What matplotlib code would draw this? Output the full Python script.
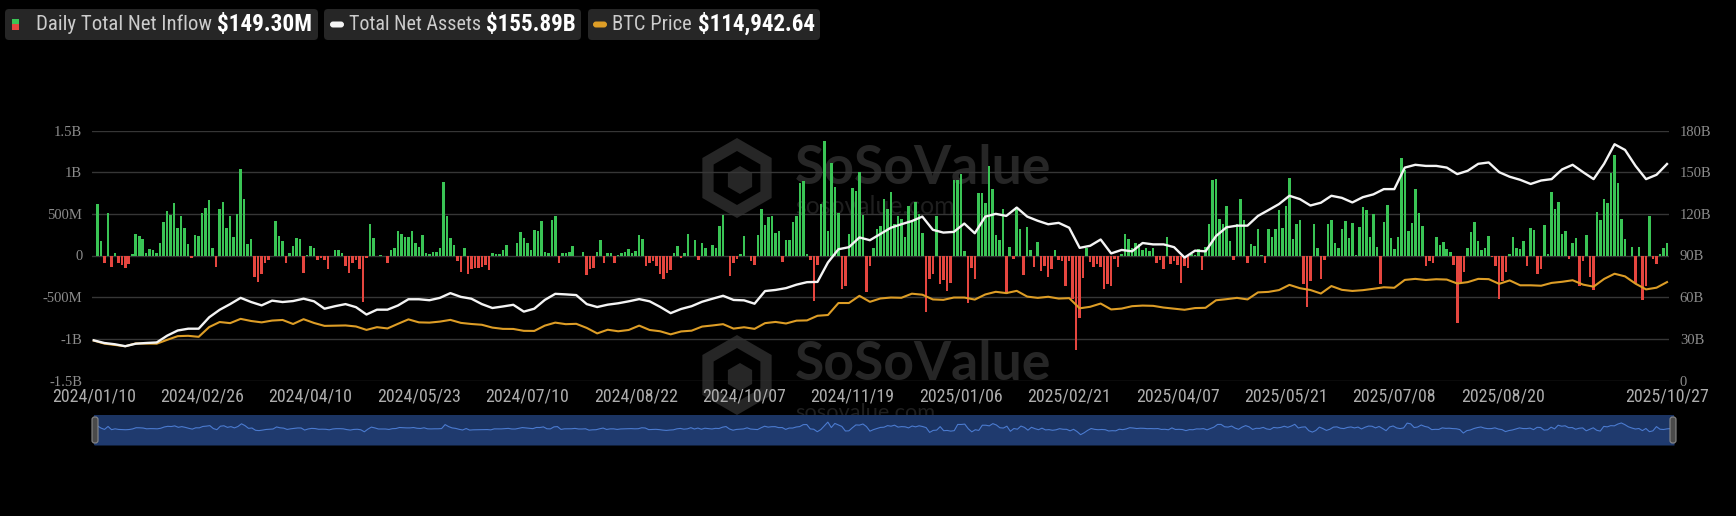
import numpy as np
import pandas as pd
import matplotlib
matplotlib.use('Agg')
import matplotlib.pyplot as plt
from matplotlib import font_manager
from matplotlib.patches import FancyBboxPatch, RegularPolygon, Rectangle

W, H = 1736, 516

# trading calendar (US market holidays inside the range)
holidays = ['2024-01-15', '2024-02-19', '2024-03-29', '2024-05-27', '2024-06-19',
            '2024-07-04', '2024-09-02', '2024-11-28', '2024-12-25', '2025-01-01',
            '2025-01-09', '2025-01-20', '2025-02-17', '2025-04-18', '2025-05-26',
            '2025-06-19', '2025-07-04', '2025-09-01']
dates = pd.bdate_range('2024-01-10', '2025-10-27', freq='C', holidays=holidays)

tick_labels = ['2024/01/10', '2024/02/26', '2024/04/10', '2024/05/23', '2024/07/10',
               '2024/08/22', '2024/10/07', '2024/11/19', '2025/01/06', '2025/02/21',
               '2025/04/07', '2025/05/21', '2025/07/08', '2025/08/20', '2025/10/27']

# daily total net inflow, $M (one per trading day)
inflow_m = [
    0, 620, 180, -85, 510, -135, 35, -85, -110, -150,
    -105, 15, 255, 240, 195, 35, 75, 65, 30, 145,
    400, 535, 490, 625, 335, 475, 325, 135, -25, 245,
    230, 510, 570, 670, 85, -135, 560, 645, 325, 475,
    220, 500, 1040, 680, 135, 195, -260, -320, -220, -95,
    -55, 0, 410, 240, 175, -85, 35, 110, 205, 200,
    -215, 8, 120, 85, -55, -35, -55, -165, 0, 65,
    65, 30, -120, -215, -85, -55, -160, -560, -30, 375,
    215, 0, 8, 0, -90, 65, 95, 300, 255, 220,
    220, 295, 145, 105, 245, 35, 15, 40, 40, 85,
    880, 480, 215, 125, -65, -200, 95, -220, -165, -150,
    -145, -135, -110, -175, 25, 15, 15, 70, 125, 0,
    -5, 145, 285, 215, 145, 70, 310, 295, 420, 45,
    25, 425, 480, -85, 35, 35, 45, 120, 0, 0,
    45, -235, -165, -145, 45, 185, -90, 25, 30, -85,
    8, 25, 45, 75, 35, 55, 245, 200, -125, -85,
    -65, -125, -220, -280, -210, -170, 30, 115, -35, 30,
    260, 0, 185, -50, 155, 85, 0, 130, 95, 360,
    490, -5, -240, -85, -45, 15, 235, -10, -65, -115,
    250, 555, 370, 458, 470, 273, 294, -79, 192, 188,
    402, 479, 870, 893, 20, -50, -541, -117, 622, 1376,
    294, 1114, 817, 510, -400, -371, 255, 816, 773, 1000,
    490, -438, -122, 90, 320, 353, 676, 556, 766, 376,
    479, 439, 223, 597, 428, 637, 493, 275, -680, -278,
    -226, 475, -338, -288, -426, -333, 909, 908, 978, 52,
    -568, -149, -284, 755, 753, 626, 1073, 802, 248, 188,
    559, -458, 100, -45, 588, 318, -235, 340, 66, -140,
    165, -185, -125, -255, -165, 65, -55, -65, -365, -65,
    -517, -1138, -755, -275, 94, -74, -143, -100, -140, -400,
    -340, -371, -45, -135, 13, 260, 195, 90, 155, 135,
    65, 85, 55, 85, -85, -55, -157, 220, -99, -64,
    -109, -326, -127, -150, 20, 2, 76, -170, 107, 381,
    912, 917, 442, 380, 591, 173, -56, 380, 675, 425,
    -86, 142, 117, 321, 10, -91, 315, 220, 315, 550,
    330, 590, 935, 200, 375, 425, -340, -620, -300, 375,
    85, -280, -50, 375, 425, 155, 85, 315, 410, 215,
    385, 10, 345, 585, 550, 225, 500, 100, -342, 407,
    602, 216, 80, 218, 1175, 1030, 295, 395, 800, 515,
    360, -125, -65, -85, 226, 130, 157, 80, 47, -114,
    -812, -323, -196, 91, 281, 404, 178, 65, 86, 230,
    -14, -122, -523, -311, -194, 23, 219, 88, 81, 179,
    -126, 333, 301, -225, -160, 365, 23, 757, 553, 642,
    260, 292, -45, 155, 215, -363, -60, 241, -258, -418,
    522, 430, 675, 627, 985, 1205, 875, 441, 198, -5,
    102, -326, 103, -536, -366, 477, -40, -101, 20, 90,
    149.3,
]

# total net assets, $B, read every 3rd trading day
tna_b = [
    28.9, 27.0, 26.1, 24.7, 26.5, 27.0, 27.4, 32.3, 36.0, 37.3,
    37.3, 45.5, 50.9, 55.0, 59.5, 56.5, 54.1, 57.5, 56.5, 57.2,
    58.9, 57.0, 51.7, 53.5, 55.0, 52.8, 47.5, 51.0, 51.0, 54.0,
    58.5, 58.5, 57.8, 59.5, 62.9, 60.2, 58.9, 55.0, 52.2, 53.3,
    54.5, 49.6, 51.7, 58.0, 62.4, 62.0, 61.5, 55.0, 52.9, 54.6,
    55.6, 57.0, 58.6, 57.0, 53.0, 48.5, 51.5, 53.5, 56.7, 58.9,
    61.0, 58.0, 57.7, 55.3, 64.4, 65.2, 66.5, 69.0, 70.8, 71.0,
    85.0, 94.5, 96.0, 103.0, 101.0, 105.5, 110.0, 112.5, 114.8, 118.0,
    108.5, 106.5, 107.0, 113.0, 106.0, 118.0, 120.0, 118.5, 124.5, 118.0,
    115.0, 112.5, 113.5, 110.0, 95.5, 97.0, 101.5, 91.5, 94.0, 93.0,
    99.0, 98.0, 98.0, 96.0, 88.5, 93.5, 93.0, 104.0, 110.3, 111.5,
    111.5, 118.5, 122.7, 127.0, 133.0, 130.6, 126.0, 128.0, 133.0, 131.5,
    128.2, 132.0, 134.0, 137.8, 137.8, 153.3, 155.3, 154.5, 154.5, 153.3,
    148.6, 151.0, 156.0, 157.0, 150.0, 146.7, 144.5, 141.5, 144.0, 145.0,
    152.0, 155.3, 150.0, 145.0, 156.0, 170.1, 166.0, 154.5, 145.0, 148.1,
    155.89,
]

# BTC price, $K, same days as tna_b
btc_k = [
    46.6, 43.1, 41.6, 40.0, 43.3, 43.1, 43.0, 47.5, 51.8, 52.2,
    51.0, 62.4, 68.3, 67.0, 72.0, 69.5, 67.9, 70.0, 70.7, 66.0,
    71.6, 67.2, 63.8, 64.0, 64.3, 63.1, 59.1, 62.3, 60.8, 66.2,
    71.4, 67.9, 67.6, 68.8, 70.8, 67.3, 66.0, 65.1, 61.8, 60.3,
    60.2, 58.0, 57.9, 64.1, 67.6, 65.8, 66.2, 61.4, 55.0, 59.3,
    57.5, 59.0, 64.1, 59.0, 57.5, 53.9, 57.3, 58.2, 63.0, 64.3,
    65.8, 60.6, 62.2, 60.3, 67.0, 68.4, 66.6, 69.9, 70.2, 75.6,
    76.5, 90.5, 90.5, 98.9, 91.9, 95.8, 96.9, 96.6, 101.4, 100.2,
    94.7, 94.2, 96.9, 96.9, 94.5, 100.5, 103.6, 102.1, 104.7, 98.0,
    96.5, 97.8, 95.7, 96.2, 84.3, 86.1, 89.9, 83.0, 84.0, 86.8,
    87.5, 87.2, 85.2, 83.9, 82.6, 84.6, 84.9, 93.7, 95.0, 96.5,
    94.7, 102.9, 103.5, 105.6, 111.7, 107.8, 105.7, 101.6, 110.3, 105.9,
    104.6, 105.5, 107.1, 108.9, 108.3, 117.5, 118.7, 117.4, 118.3, 117.9,
    113.3, 114.9, 118.7, 118.4, 112.9, 116.9, 111.2, 111.2, 110.7, 114.0,
    115.3, 117.1, 112.0, 109.6, 118.6, 124.7, 121.6, 113.1, 106.4, 108.4,
    114.94264,
]

legend_names = ['Daily Total Net Inflow', 'Total Net Assets', 'BTC Price']
legend_values = ['$149.30M', '$155.89B', '$114,942.64']

GREEN = '#3ac455'
RED = '#e5463f'
ORANGE = '#dd9d26'
GRID = '#363636'
TICK = '#8c8c8c'

# condensed font if one is around
ttf = font_manager.fontManager.ttflist
names = {f.name for f in ttf}
if 'Roboto Condensed' in names:
    COND = {'family': 'Roboto Condensed'}
elif 'Liberation Sans Narrow' in names:
    COND = {'family': 'Liberation Sans Narrow'}
elif any(f.name == 'DejaVu Sans' and str(f.stretch) == 'condensed' for f in ttf):
    COND = {'family': 'DejaVu Sans', 'stretch': 'condensed'}
else:
    COND = {'family': 'Lato'}
SERIF = 'Liberation Serif'


def fr(x0, y0, x1, y1):
    return [x0 / W, 1 - y1 / H, (x1 - x0) / W, (y1 - y0) / H]


def inch(px, py):
    return (px / 100, (H - py) / 100)


fig = plt.figure(figsize=(W / 100, H / 100), dpi=100, facecolor='black')

x = np.arange(len(dates))
line_x = x[::3]
inflow = np.array(inflow_m) * 1e6

# ---- main chart
ax = fig.add_axes(fr(92.05, 130.5, 1668.75, 380.5))
ax.set_facecolor('none')
ax.bar(x, inflow, width=0.72, color=np.where(inflow >= 0, GREEN, RED), zorder=2)
ax.set_xlim(-0.5, len(dates) - 0.5)
ax.set_ylim(-1.5e9, 1.5e9)
ax.set_yticks(np.arange(-1.5e9, 1.6e9, 0.5e9))
ax.set_yticklabels(['-1.5B', '-1B', '-500M', '0', '500M', '1B', '1.5B'],
                   family=SERIF, fontsize=10.5, color=TICK)
ax.grid(axis='y', color=GRID, lw=1)
ax.set_axisbelow(True)
tick_pos = [dates.get_loc(pd.Timestamp(s.replace('/', '-'))) for s in tick_labels]
ax.set_xticks(tick_pos)
ax.set_xticklabels(tick_labels, color='#adadad', fontsize=10.5, **COND)
ax.tick_params(axis='x', length=0, pad=5)
ax.tick_params(axis='y', length=0, pad=7)

ax3 = ax.twinx()
ax3.set_ylim(0, 292000)
ax3.plot(line_x, np.array(btc_k) * 1000, color=ORANGE, lw=1.5, solid_joinstyle='round')
ax3.set_yticks([])

ax2 = ax.twinx()
ax2.set_ylim(0, 180)
ax2.set_yticks(np.arange(0, 181, 30))
ax2.set_yticklabels(['0'] + [f'{v}B' for v in range(30, 181, 30)],
                    family=SERIF, fontsize=10.5, color=TICK)
ax2.tick_params(axis='y', length=0, pad=8)
ax2.plot(line_x, tna_b, color='#f4f4f4', lw=1.7, solid_joinstyle='round')

for a in (ax, ax2, ax3):
    for s in a.spines.values():
        s.set_visible(False)

# ---- zoom slider with data shadow
sl = fig.add_axes(fr(94, 415, 1674, 445))
sl.set_facecolor('#1b3463')
sl.fill_between(x, inflow, -3.2e9, color='#1f3a6e', lw=0)
sl.plot(x, inflow, color='#4b7bd0', lw=0.8)
sl.set_xlim(0, len(dates) - 1)
sl.set_ylim(-3.2e9, 2.8e9)
sl.set_xticks([])
sl.set_yticks([])
for s in sl.spines.values():
    s.set_visible(False)
for hx in (95, 1673):
    hx0, hy0 = inch(hx - 3, 443)
    fig.add_artist(FancyBboxPatch((hx0, hy0), 0.06, 0.26,
                                  boxstyle='round,pad=0,rounding_size=0.025',
                                  transform=fig.dpi_scale_trans,
                                  facecolor='#4a4a4a', edgecolor='#8a8a8a', lw=0.8))

# ---- watermark (behind everything)
WM = '#262626'
wm_texts = []
for yc, yu, usize in ((168, 206, 160), (365, 413, 140)):
    cx, cy = inch(737, yc + 10)
    fig.add_artist(RegularPolygon((cx, cy), 6, radius=0.40, orientation=0,
                                  transform=fig.dpi_scale_trans, facecolor=WM,
                                  edgecolor='none', zorder=-6))
    fig.add_artist(RegularPolygon((cx, cy), 6, radius=0.27, orientation=0,
                                  transform=fig.dpi_scale_trans, facecolor='black',
                                  edgecolor='none', zorder=-5))
    fig.add_artist(RegularPolygon((cx + 0.03, cy - 0.02), 6, radius=0.14, orientation=0,
                                  transform=fig.dpi_scale_trans, facecolor=WM,
                                  edgecolor='none', zorder=-4))
    t1 = fig.text(795 / W, 1 - yc / H, 'SoSoValue', color=WM, fontsize=32,
                  fontweight='bold', family='Lato', va='center', ha='left', zorder=-4)
    t2 = fig.text(795 / W, 1 - yu / H, 'sosovalue.com', color='#1f1f1f', fontsize=15,
                  family='Lato', va='center', ha='left', zorder=-4)
    wm_texts += [(t1, 257), (t2, usize)]

# ---- legend chips at the top
chips = [(5, 318, 36, 176, 217, 95), (324, 581, 349, 131, 486, 90), (588, 820, 612, 79, 698, 117)]
leg_texts = []
for (bx0, bx1, lx, lw_, vx, vw), name, val in zip(chips, legend_names, legend_values):
    p0 = inch(bx0, 40)
    fig.add_artist(FancyBboxPatch(p0, (bx1 - bx0) / 100, 0.31,
                                  boxstyle='round,pad=0,rounding_size=0.04',
                                  transform=fig.dpi_scale_trans,
                                  facecolor='#262626', edgecolor='none'))
    t = fig.text(lx / W, 1 - 24.5 / H, name, color='#cccccc', fontsize=11,
                 va='center', ha='left', **COND)
    v = fig.text(vx / W, 1 - 24.5 / H, val, color='white', fontsize=14,
                 fontweight='bold', va='center', ha='left', **COND)
    leg_texts += [(t, lw_), (v, vw)]

# icons
fig.add_artist(Rectangle(inch(12, 24.5), 0.07, 0.06, transform=fig.dpi_scale_trans,
                         facecolor=GREEN, edgecolor='none'))
fig.add_artist(Rectangle(inch(12, 30.5), 0.07, 0.06, transform=fig.dpi_scale_trans,
                         facecolor=RED, edgecolor='none'))
for ix, col in ((330, '#f4f4f4'), (593, ORANGE)):
    fig.add_artist(FancyBboxPatch(inch(ix, 27.5), 0.14, 0.06,
                                  boxstyle='round,pad=0,rounding_size=0.03',
                                  transform=fig.dpi_scale_trans,
                                  facecolor=col, edgecolor='none'))

# fit text widths to the reference
fig.canvas.draw()
r = fig.canvas.get_renderer()
for t, target in leg_texts + wm_texts:
    w = t.get_window_extent(r).width
    t.set_fontsize(t.get_fontsize() * target / w)
lab0 = ax.get_xticklabels()[0]
w0 = lab0.get_window_extent(r).width
new_size = 10.5 * 85 / w0
for lab in ax.get_xticklabels():
    lab.set_fontsize(new_size)

fig.savefig('out.png', dpi=100, facecolor='black')
